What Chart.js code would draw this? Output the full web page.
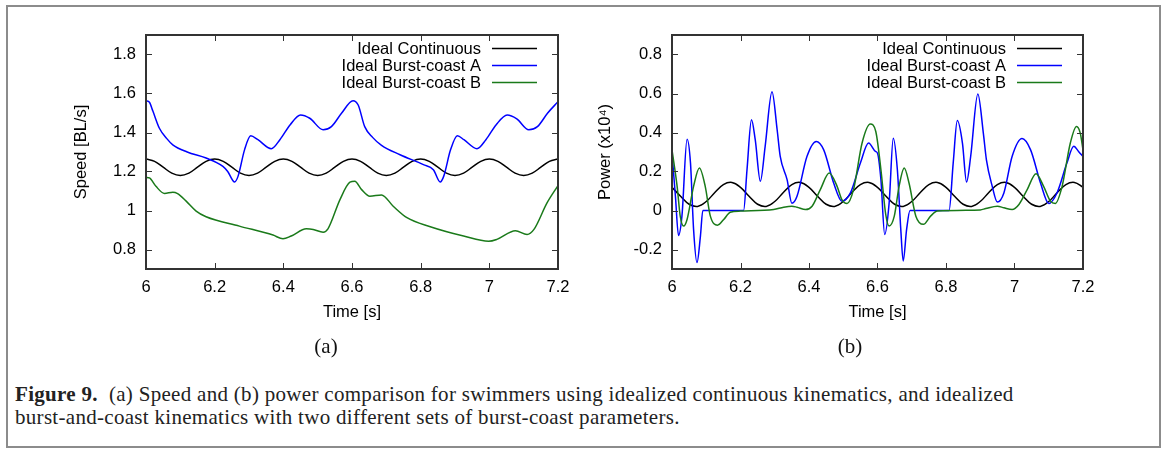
<!DOCTYPE html>
<html><head><meta charset="utf-8">
<script src="https://cdn.jsdelivr.net/npm/chart.js@4.4.1/dist/chart.umd.min.js"></script>
<style>
html,body{margin:0;padding:0;background:#fff;}
body{width:1166px;height:450px;position:relative;overflow:hidden;}
#frame{position:absolute;left:6px;top:5px;width:1151px;height:439px;border:2px solid #8c8c8c;}
.cw{position:absolute;top:0;width:583px;height:340px;}
#c1w{left:0}
#c2w{left:583px}
.sub{position:absolute;top:334px;font-family:"Liberation Serif",serif;font-size:21px;color:#111;transform:translateX(-50%);}
#cap{position:absolute;left:15px;top:383px;width:1130px;font-family:"Liberation Serif",serif;font-size:21px;letter-spacing:0.3px;line-height:23px;color:#222;white-space:nowrap;}
#cap b{font-weight:bold;}
</style></head>
<body>
<div id="frame"></div>
<div class="cw" id="c1w"><canvas id="c1" width="583" height="340"></canvas></div>
<div class="cw" id="c2w"><canvas id="c2" width="583" height="340"></canvas></div>
<div class="sub" style="left:326px">(a)</div>
<div class="sub" style="left:850px">(b)</div>
<div id="cap"><b>Figure 9.</b>&nbsp; (a) Speed and (b) power comparison for swimmers using idealized continuous kinematics, and idealized<br>burst-and-coast kinematics with two different sets of burst-coast parameters.</div>
<script>
const xTickValues = [6, 6.2, 6.4, 6.6, 6.8, 7, 7.2];
const xTickLabels = ['6','6.2','6.4','6.6','6.8','7','7.2'];
const speedTickValues = [0.8, 1, 1.2, 1.4, 1.6, 1.8];
const speedTickLabels = ['0.8','1','1.2','1.4','1.6','1.8'];
const powerTickValues = [-0.2, 0, 0.2, 0.4, 0.6, 0.8];
const powerTickLabels = ['-0.2','0','0.2','0.4','0.6','0.8'];
const seriesNames = ['Ideal Continuous', 'Ideal Burst-coast A', 'Ideal Burst-coast B'];

const contTime = [6.000,6.025,6.050,6.075,6.100,6.125,6.150,6.175,6.200,6.225,6.250,6.275,6.300,6.325,6.350,6.375,6.400,6.425,6.450,6.475,6.500,6.525,6.550,6.575,6.600,6.625,6.650,6.675,6.700,6.725,6.750,6.775,6.800,6.825,6.850,6.875,6.900,6.925,6.950,6.975,7.000,7.025,7.050,7.075,7.100,7.125,7.150,7.175,7.200];
const speedCont = [1.264,1.252,1.222,1.192,1.180,1.192,1.222,1.252,1.264,1.252,1.222,1.192,1.180,1.192,1.222,1.252,1.264,1.252,1.222,1.192,1.180,1.192,1.222,1.252,1.264,1.252,1.222,1.192,1.180,1.192,1.222,1.252,1.264,1.252,1.222,1.192,1.180,1.192,1.222,1.252,1.264,1.252,1.222,1.192,1.180,1.192,1.222,1.252,1.264];
const powerCont = [0.119,0.073,0.032,0.021,0.046,0.092,0.133,0.144,0.119,0.073,0.032,0.021,0.046,0.092,0.133,0.144,0.119,0.073,0.032,0.021,0.046,0.092,0.133,0.144,0.119,0.073,0.032,0.021,0.046,0.092,0.133,0.144,0.119,0.073,0.032,0.021,0.046,0.092,0.133,0.144,0.119,0.073,0.032,0.021,0.046,0.092,0.133,0.144,0.119];

const speedATime = [6.000,6.010,6.020,6.039,6.060,6.078,6.120,6.175,6.224,6.238,6.258,6.268,6.287,6.305,6.326,6.365,6.390,6.420,6.450,6.477,6.516,6.540,6.570,6.603,6.618,6.637,6.660,6.686,6.740,6.808,6.837,6.857,6.867,6.887,6.907,6.926,6.964,6.990,7.020,7.052,7.080,7.115,7.140,7.170,7.200];
const speedA = [1.563,1.555,1.510,1.422,1.370,1.337,1.300,1.269,1.226,1.200,1.146,1.175,1.311,1.383,1.363,1.317,1.363,1.440,1.490,1.473,1.414,1.430,1.500,1.563,1.541,1.430,1.375,1.334,1.286,1.235,1.209,1.146,1.175,1.311,1.383,1.363,1.317,1.363,1.440,1.490,1.470,1.414,1.430,1.500,1.558];

const speedBTime = [6.000,6.010,6.029,6.054,6.078,6.092,6.117,6.146,6.175,6.272,6.370,6.399,6.423,6.467,6.487,6.516,6.530,6.565,6.594,6.608,6.628,6.652,6.686,6.720,6.760,6.828,6.925,6.998,7.022,7.076,7.110,7.130,7.168,7.200];
const speedB = [1.170,1.167,1.124,1.087,1.094,1.087,1.048,0.997,0.968,0.920,0.874,0.855,0.869,0.906,0.903,0.889,0.906,1.056,1.145,1.150,1.107,1.073,1.080,1.022,0.963,0.917,0.869,0.842,0.852,0.896,0.877,0.903,1.039,1.128];

const powerATime = [6.000,6.010,6.019,6.029,6.044,6.054,6.063,6.073,6.083,6.090,6.209,6.219,6.232,6.243,6.258,6.272,6.292,6.307,6.316,6.336,6.350,6.365,6.394,6.421,6.443,6.472,6.496,6.521,6.550,6.574,6.594,6.600,6.610,6.621,6.634,6.646,6.658,6.668,6.675,6.685,6.695,6.809,6.821,6.833,6.848,6.860,6.872,6.893,6.909,6.918,6.935,6.950,6.969,6.993,7.022,7.047,7.076,7.100,7.124,7.153,7.173,7.187,7.200];
const powerA = [0.294,0.073,-0.128,-0.029,0.366,0.243,-0.097,-0.267,-0.131,0.000,0.000,0.209,0.465,0.363,0.150,0.329,0.609,0.414,0.277,0.158,0.037,0.073,0.277,0.354,0.311,0.141,0.048,0.090,0.243,0.346,0.303,0.294,0.158,-0.123,0.039,0.371,0.209,-0.097,-0.259,-0.097,0.000,0.000,0.243,0.461,0.346,0.146,0.277,0.597,0.397,0.260,0.124,0.043,0.090,0.277,0.369,0.311,0.141,0.036,0.090,0.243,0.329,0.303,0.277];

const powerBTime = [6.000,6.015,6.024,6.034,6.044,6.063,6.080,6.097,6.112,6.133,6.151,6.170,6.200,6.297,6.326,6.350,6.365,6.390,6.409,6.433,6.459,6.482,6.496,6.511,6.530,6.555,6.579,6.595,6.610,6.624,6.634,6.649,6.663,6.678,6.692,6.712,6.734,6.755,6.775,6.900,6.916,6.950,6.969,6.993,7.013,7.037,7.063,7.085,7.105,7.119,7.139,7.163,7.181,7.192,7.200];
const powerB = [0.311,0.124,-0.029,-0.080,-0.046,0.124,0.218,0.124,-0.029,-0.075,-0.046,-0.009,-0.003,0.005,0.017,0.022,0.017,0.005,0.022,0.107,0.192,0.124,0.056,0.036,0.107,0.346,0.443,0.405,0.209,-0.020,-0.080,-0.029,0.124,0.218,0.141,-0.029,-0.071,-0.029,-0.003,0.003,0.010,0.022,0.014,0.005,0.031,0.107,0.189,0.124,0.048,0.036,0.124,0.346,0.431,0.397,0.311];

const colors = ['#000000', '#0000ff', '#1a7a1a'];
const FONT = "'Liberation Sans', Arial, sans-serif";
const FS = 16.5;

const boxPlugin = {
  id: 'gnuBox',
  afterDatasetsDraw(chart) {
    const {ctx, chartArea: a, scales} = chart;
    ctx.save();
    ctx.strokeStyle = '#333';
    ctx.lineWidth = 1;
    const tl = 6;
    ctx.beginPath();
    scales.x.ticks.forEach(t => {
      const px = Math.round(scales.x.getPixelForValue(t.value)) + 0.5;
      ctx.moveTo(px, a.bottom); ctx.lineTo(px, a.bottom - tl);
      ctx.moveTo(px, a.top); ctx.lineTo(px, a.top + tl);
    });
    scales.y.ticks.forEach(t => {
      const py = Math.round(scales.y.getPixelForValue(t.value)) + 0.5;
      ctx.moveTo(a.left, py); ctx.lineTo(a.left + tl, py);
      ctx.moveTo(a.right, py); ctx.lineTo(a.right - tl, py);
    });
    ctx.stroke();
    ctx.lineWidth = 2;
    ctx.strokeRect(a.left, a.top, a.right - a.left, a.bottom - a.top);
    ctx.restore();
  },
  afterDraw(chart) {
    const {ctx, chartArea: a} = chart;
    ctx.save();
    ctx.font = FS + 'px ' + FONT;
    ctx.textAlign = 'right';
    ctx.textBaseline = 'middle';
    chart.data.datasets.forEach((ds, i) => {
      const y = a.top + 13.5 + i * 17;
      ctx.fillStyle = '#000';
      ctx.fillText(ds.label, a.right - 77, y + 1);
      ctx.strokeStyle = ds.borderColor;
      ctx.lineWidth = 1.5;
      ctx.beginPath();
      ctx.moveTo(a.right - 66, y); ctx.lineTo(a.right - 21, y);
      ctx.stroke();
    });
    ctx.restore();
  }
};

function makeSets(list) {
  return list.map((s, i) => ({
    label: seriesNames[i],
    data: s.t.map((t, k) => ({x: t, y: s.v[k]})),
    borderColor: colors[i],
    borderWidth: 1.5,
    pointRadius: 0,
    fill: false,
    order: 2 - i,
    tension: i === 0 ? 0.4 : 0,
    cubicInterpolationMode: i === 0 ? 'default' : 'monotone'
  }));
}

function makeChart(id, sets, yVals, yLabels, yMin, yMax, yTitle, pad, yWidth) {
  const font = {family: FONT, size: FS};
  return new Chart(document.getElementById(id), {
    type: 'line',
    data: {datasets: sets},
    options: {
      responsive: false, animation: false, devicePixelRatio: 1,
      layout: {padding: pad},
      plugins: {legend: {display: false}, tooltip: {enabled: false}},
      scales: {
        x: {
          type: 'linear', min: 6, max: 7.2,
          afterBuildTicks: s => { s.ticks = xTickValues.map(v => ({value: v})); },
          afterFit: s => { s.height = 53; },
          grid: {display: false, drawTicks: false},
          border: {display: false},
          ticks: {padding: 9, color: '#000', font, maxRotation: 0, autoSkip: false,
                  callback: (v, i) => xTickLabels[i]},
          title: {display: true, text: 'Time [s]', color: '#000', font, padding: 0}
        },
        y: {
          type: 'linear', min: yMin, max: yMax,
          afterBuildTicks: s => { s.ticks = yVals.map(v => ({value: v})); },
          afterFit: s => { s.width = yWidth; },
          grid: {display: false, drawTicks: false},
          border: {display: false},
          ticks: {padding: 10, color: '#000', font, autoSkip: false,
                  callback: (v, i) => yLabels[i]},
          title: {display: true, text: yTitle, color: '#000', font, padding: 0}
        }
      }
    },
    plugins: [boxPlugin]
  });
}

makeChart('c1', makeSets([
  {t: contTime, v: speedCont},
  {t: speedATime, v: speedA},
  {t: speedBTime, v: speedB}
]), speedTickValues, speedTickLabels, 0.7, 1.9, 'Speed [BL/s]', {left: 72, top: 35, right: 25, bottom: 18}, 74);

makeChart('c2', makeSets([
  {t: contTime, v: powerCont},
  {t: powerATime, v: powerA},
  {t: powerBTime, v: powerB}
]), powerTickValues, powerTickLabels, -0.3, 0.9, 'Power (x10\u2074)', {left: 13, top: 35, right: 83, bottom: 18}, 76);
</script>
</body></html>
